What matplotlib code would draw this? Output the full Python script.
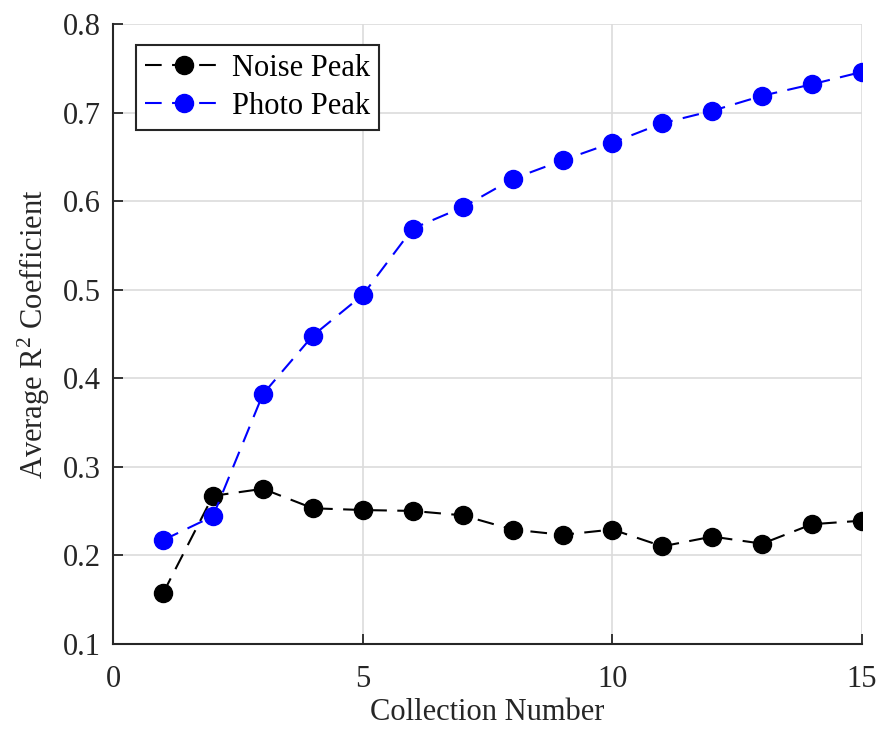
import numpy as np
import matplotlib
matplotlib.use('Agg')
import matplotlib.pyplot as plt

# values
collection = np.arange(1, 16)
noise_peak = [0.157, 0.267, 0.275, 0.253, 0.251, 0.250, 0.245, 0.229, 0.223,
              0.229, 0.210, 0.221, 0.213, 0.235, 0.239]
photo_peak = [0.217, 0.244, 0.382, 0.448, 0.494, 0.569, 0.593, 0.625, 0.646,
              0.666, 0.688, 0.702, 0.719, 0.732, 0.746]

plt.rcParams['font.family'] = ['Liberation Serif', 'DejaVu Serif']
plt.rcParams['mathtext.fontset'] = 'custom'
plt.rcParams['mathtext.rm'] = 'Liberation Serif'
plt.rcParams['mathtext.it'] = 'Liberation Serif:italic'

fig = plt.figure(figsize=(8.77, 7.29), dpi=100)
ax = fig.add_axes([0.129, 0.117, 0.854, 0.850])

ax.plot(collection, noise_peak, '--o', color='black', lw=1.5, ms=13,
        dashes=(8, 5), label='Noise Peak')
ax.plot(collection, photo_peak, '--o', color='#0000ff', lw=1.5, ms=13,
        dashes=(8, 5), label='Photo Peak')

ax.set_xlim(0, 15)
ax.set_ylim(0.1, 0.8)
ax.set_xticks([0, 5, 10, 15])
ax.set_yticks(np.arange(0.1, 0.81, 0.1))
ax.set_yticklabels(['0.1', '0.2', '0.3', '0.4', '0.5', '0.6', '0.7', '0.8'])
ax.grid(True, color='#dcdcdc', lw=1.2)
ax.set_axisbelow(True)

for side in ['top', 'right']:
    ax.spines[side].set_visible(False)
for side in ['left', 'bottom']:
    ax.spines[side].set_color('#262626')
    ax.spines[side].set_linewidth(1.5)

ax.tick_params(direction='in', length=7, width=1.3, color='#262626',
               labelsize=22, labelcolor='#262626')
ax.tick_params(axis='y', pad=9)
ax.tick_params(axis='x', pad=15)
ax.set_xlabel('Collection Number', fontsize=22, color='#262626', labelpad=3)
ax.set_ylabel(r'Average R$^2$ Coefficient', fontsize=22, color='#262626', labelpad=8)

leg = ax.legend(loc='upper left', bbox_to_anchor=(0.030, 0.967), fontsize=22,
                frameon=True, fancybox=False, handlelength=2.55,
                handletextpad=0.3, borderpad=0.3, labelspacing=0.3,
                borderaxespad=0)
leg.get_frame().set_edgecolor('#262626')
leg.get_frame().set_linewidth(1.5)
leg.get_frame().set_alpha(1)

fig.savefig('out.png', dpi=100)
